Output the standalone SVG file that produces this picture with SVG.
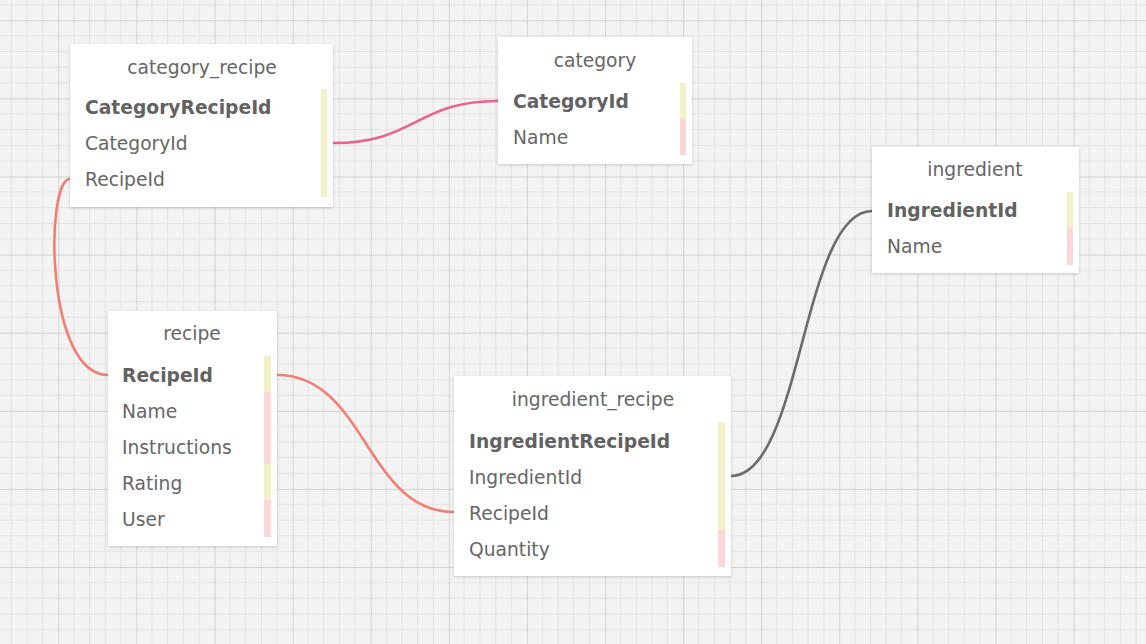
<svg xmlns="http://www.w3.org/2000/svg" width="1146" height="644" viewBox="0 0 1146 644">
<style>
.node rect.box{fill:#fff;filter:url(#sh)}
.title{font-family:"DejaVu Sans",Verdana,sans-serif;font-size:18.7px;fill:#666;text-anchor:middle}
.f{font-family:"DejaVu Sans",Verdana,sans-serif;font-size:18.7px;fill:#666}
.pk{font-weight:bold;fill:#626262}
.y{fill:#f2f2c6}
.p{fill:#fcd6d8}
.conn path{fill:none;stroke-width:2.6}
</style>
<defs>
<filter id="sh" x="-10%" y="-10%" width="120%" height="120%">
<feDropShadow dx="0" dy="1" stdDeviation="1.5" flood-color="#000" flood-opacity="0.18"/>
</filter>
<pattern id="grid" patternUnits="userSpaceOnUse" x="58.3" y="20.3" width="78.1" height="78.1">
<rect width="78.1" height="78.1" fill="#f3f3f3"/>
<path d="M15.62 0V78.1M31.24 0V78.1M46.86 0V78.1M62.48 0V78.1M0 15.62H78.1M0 31.24H78.1M0 46.86H78.1M0 62.48H78.1" stroke="#e3e3e3" stroke-width="1"/>
<path d="M0 0V78.1M0 0H78.1" stroke="#c6c6c6" stroke-width="1.4"/>
</pattern>
</defs>
<rect width="1146" height="644" fill="url(#grid)"/>
<g id="connectors" class="conn">
<path d="M333 143C416 143 416 101 498 101" stroke="#e8648e"/>
<path d="M70 179C45 179 45 375 108 375" stroke="#f07f74"/>
<path d="M277 375C366 375 366 512 454 512" stroke="#f07f74"/>
<path d="M731 476C802 476 802 211 872 211" stroke="#6b6b6b"/>
</g>
<g id="category_recipe" class="node">
<rect class="box" x="70" y="44" width="263" height="163"/>
<text class="title" x="202" y="74">category_recipe</text>
<rect class="y" x="321" y="89" width="6" height="108"/>
<text class="f pk" x="85" y="114">CategoryRecipeId</text>
<text class="f" x="85" y="150">CategoryId</text>
<text class="f" x="85" y="186">RecipeId</text>
</g>
<g id="category" class="node">
<rect class="box" x="498" y="37" width="194" height="127"/>
<text class="title" x="595" y="67">category</text>
<rect class="y" x="680" y="83" width="6" height="36"/>
<rect class="p" x="680" y="119" width="6" height="36"/>
<text class="f pk" x="513" y="108">CategoryId</text>
<text class="f" x="513" y="144">Name</text>
</g>
<g id="ingredient" class="node">
<rect class="box" x="872" y="147" width="207" height="126"/>
<text class="title" x="975" y="176">ingredient</text>
<rect class="y" x="1067" y="192" width="6" height="36"/>
<rect class="p" x="1067" y="228" width="6" height="37"/>
<text class="f pk" x="887" y="217">IngredientId</text>
<text class="f" x="887" y="253">Name</text>
</g>
<g id="recipe" class="node">
<rect class="box" x="108" y="311" width="169" height="235"/>
<text class="title" x="192" y="340">recipe</text>
<rect class="y" x="264" y="356" width="7" height="36"/>
<rect class="p" x="264" y="392" width="7" height="72"/>
<rect class="y" x="264" y="464" width="7" height="36"/>
<rect class="p" x="264" y="500" width="7" height="37"/>
<text class="f pk" x="122" y="382">RecipeId</text>
<text class="f" x="122" y="418">Name</text>
<text class="f" x="122" y="454">Instructions</text>
<text class="f" x="122" y="490">Rating</text>
<text class="f" x="122" y="526">User</text>
</g>
<g id="ingredient_recipe" class="node">
<rect class="box" x="454" y="376" width="277" height="200"/>
<text class="title" x="593" y="406">ingredient_recipe</text>
<rect class="y" x="718" y="422" width="7" height="108"/>
<rect class="p" x="718" y="530" width="7" height="37"/>
<text class="f pk" x="469" y="448">IngredientRecipeId</text>
<text class="f" x="469" y="484">IngredientId</text>
<text class="f" x="469" y="520">RecipeId</text>
<text class="f" x="469" y="556">Quantity</text>
</g>
</svg>
